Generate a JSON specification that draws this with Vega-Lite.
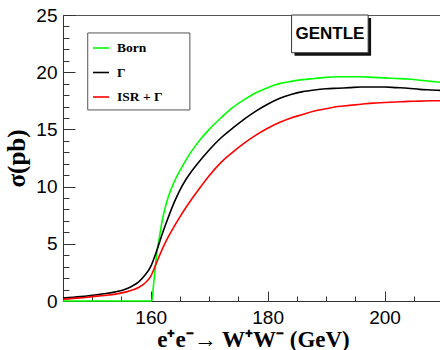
{
  "$schema": "https://vega.github.io/schema/vega-lite/v6.json",
  "width": 380,
  "height": 286,
  "autosize": "none",
  "padding": {"left": 63, "top": 15, "right": 0, "bottom": 49},
  "background": "white",
  "config": {
    "view": {"stroke": "#555", "strokeWidth": 1},
    "axis": {
      "grid": false,
      "domainColor": "#333",
      "tickColor": "#333",
      "labelFont": "Liberation Sans",
      "labelFontSize": 19,
      "labelColor": "#000",
      "titleFont": "Liberation Serif",
      "titleFontWeight": "bold",
      "titleColor": "#000",
      "labelOverlap": false,
      "labelFlush": false
    }
  },
  "resolve": {"axis": {"x": "independent", "y": "independent"}},
  "datasets": {
    "curves": [
      {"series": "Born", "E": 145, "sigma": 0},
      {"series": "Born", "E": 150, "sigma": 0},
      {"series": "Born", "E": 155, "sigma": 0},
      {"series": "Born", "E": 160.2, "sigma": 0},
      {"series": "Born", "E": 160.5, "sigma": 1.5},
      {"series": "Born", "E": 160.8, "sigma": 3.0},
      {"series": "Born", "E": 161.0, "sigma": 4.0},
      {"series": "Born", "E": 161.5, "sigma": 5.6},
      {"series": "Born", "E": 162, "sigma": 7.1},
      {"series": "Born", "E": 162.5, "sigma": 8.2},
      {"series": "Born", "E": 163, "sigma": 9.1},
      {"series": "Born", "E": 164, "sigma": 10.4},
      {"series": "Born", "E": 165, "sigma": 11.4},
      {"series": "Born", "E": 166, "sigma": 12.3},
      {"series": "Born", "E": 167, "sigma": 13.1},
      {"series": "Born", "E": 168, "sigma": 13.8},
      {"series": "Born", "E": 170, "sigma": 15.0},
      {"series": "Born", "E": 172, "sigma": 16.0},
      {"series": "Born", "E": 174, "sigma": 16.9},
      {"series": "Born", "E": 176, "sigma": 17.6},
      {"series": "Born", "E": 178, "sigma": 18.2},
      {"series": "Born", "E": 180, "sigma": 18.65},
      {"series": "Born", "E": 182, "sigma": 19.0},
      {"series": "Born", "E": 184, "sigma": 19.2},
      {"series": "Born", "E": 186, "sigma": 19.35},
      {"series": "Born", "E": 188, "sigma": 19.45},
      {"series": "Born", "E": 190, "sigma": 19.55},
      {"series": "Born", "E": 192, "sigma": 19.6},
      {"series": "Born", "E": 194, "sigma": 19.6},
      {"series": "Born", "E": 196, "sigma": 19.6},
      {"series": "Born", "E": 198, "sigma": 19.55},
      {"series": "Born", "E": 200, "sigma": 19.5},
      {"series": "Born", "E": 202, "sigma": 19.45},
      {"series": "Born", "E": 204, "sigma": 19.4},
      {"series": "Born", "E": 206, "sigma": 19.3},
      {"series": "Born", "E": 208, "sigma": 19.2},
      {"series": "Born", "E": 210, "sigma": 19.1},
      {"series": "Γ", "E": 145, "sigma": 0.25},
      {"series": "Γ", "E": 148, "sigma": 0.38},
      {"series": "Γ", "E": 150, "sigma": 0.5},
      {"series": "Γ", "E": 152, "sigma": 0.63},
      {"series": "Γ", "E": 154, "sigma": 0.8},
      {"series": "Γ", "E": 156, "sigma": 1.1},
      {"series": "Γ", "E": 157, "sigma": 1.35},
      {"series": "Γ", "E": 158, "sigma": 1.7},
      {"series": "Γ", "E": 159, "sigma": 2.25},
      {"series": "Γ", "E": 160, "sigma": 3.0},
      {"series": "Γ", "E": 161, "sigma": 4.35},
      {"series": "Γ", "E": 162, "sigma": 5.9},
      {"series": "Γ", "E": 163, "sigma": 7.3},
      {"series": "Γ", "E": 164, "sigma": 8.6},
      {"series": "Γ", "E": 165, "sigma": 9.7},
      {"series": "Γ", "E": 166, "sigma": 10.6},
      {"series": "Γ", "E": 167, "sigma": 11.35},
      {"series": "Γ", "E": 168, "sigma": 12.0},
      {"series": "Γ", "E": 170, "sigma": 13.2},
      {"series": "Γ", "E": 172, "sigma": 14.25},
      {"series": "Γ", "E": 174, "sigma": 15.1},
      {"series": "Γ", "E": 176, "sigma": 15.9},
      {"series": "Γ", "E": 178, "sigma": 16.6},
      {"series": "Γ", "E": 180, "sigma": 17.2},
      {"series": "Γ", "E": 182, "sigma": 17.7},
      {"series": "Γ", "E": 184, "sigma": 18.05},
      {"series": "Γ", "E": 186, "sigma": 18.3},
      {"series": "Γ", "E": 188, "sigma": 18.45},
      {"series": "Γ", "E": 190, "sigma": 18.55},
      {"series": "Γ", "E": 192, "sigma": 18.6},
      {"series": "Γ", "E": 194, "sigma": 18.65},
      {"series": "Γ", "E": 196, "sigma": 18.7},
      {"series": "Γ", "E": 198, "sigma": 18.7},
      {"series": "Γ", "E": 200, "sigma": 18.7},
      {"series": "Γ", "E": 202, "sigma": 18.65},
      {"series": "Γ", "E": 204, "sigma": 18.6},
      {"series": "Γ", "E": 206, "sigma": 18.5},
      {"series": "Γ", "E": 208, "sigma": 18.45},
      {"series": "Γ", "E": 210, "sigma": 18.4},
      {"series": "ISR + Γ", "E": 145, "sigma": 0.15},
      {"series": "ISR + Γ", "E": 148, "sigma": 0.27},
      {"series": "ISR + Γ", "E": 150, "sigma": 0.38},
      {"series": "ISR + Γ", "E": 152, "sigma": 0.48},
      {"series": "ISR + Γ", "E": 154, "sigma": 0.6},
      {"series": "ISR + Γ", "E": 156, "sigma": 0.82},
      {"series": "ISR + Γ", "E": 157, "sigma": 0.98},
      {"series": "ISR + Γ", "E": 158, "sigma": 1.2},
      {"series": "ISR + Γ", "E": 159, "sigma": 1.55},
      {"series": "ISR + Γ", "E": 160, "sigma": 2.15},
      {"series": "ISR + Γ", "E": 161, "sigma": 3.35},
      {"series": "ISR + Γ", "E": 162, "sigma": 4.55},
      {"series": "ISR + Γ", "E": 163, "sigma": 5.6},
      {"series": "ISR + Γ", "E": 164, "sigma": 6.5},
      {"series": "ISR + Γ", "E": 165, "sigma": 7.35},
      {"series": "ISR + Γ", "E": 166, "sigma": 8.15},
      {"series": "ISR + Γ", "E": 167, "sigma": 8.9},
      {"series": "ISR + Γ", "E": 168, "sigma": 9.6},
      {"series": "ISR + Γ", "E": 170, "sigma": 10.95},
      {"series": "ISR + Γ", "E": 172, "sigma": 12.1},
      {"series": "ISR + Γ", "E": 174, "sigma": 13.0},
      {"series": "ISR + Γ", "E": 176, "sigma": 13.8},
      {"series": "ISR + Γ", "E": 178, "sigma": 14.5},
      {"series": "ISR + Γ", "E": 180, "sigma": 15.1},
      {"series": "ISR + Γ", "E": 182, "sigma": 15.6},
      {"series": "ISR + Γ", "E": 184, "sigma": 16.0},
      {"series": "ISR + Γ", "E": 186, "sigma": 16.3},
      {"series": "ISR + Γ", "E": 188, "sigma": 16.6},
      {"series": "ISR + Γ", "E": 190, "sigma": 16.8},
      {"series": "ISR + Γ", "E": 192, "sigma": 17.0},
      {"series": "ISR + Γ", "E": 194, "sigma": 17.1},
      {"series": "ISR + Γ", "E": 196, "sigma": 17.2},
      {"series": "ISR + Γ", "E": 198, "sigma": 17.3},
      {"series": "ISR + Γ", "E": 200, "sigma": 17.35},
      {"series": "ISR + Γ", "E": 202, "sigma": 17.4},
      {"series": "ISR + Γ", "E": 204, "sigma": 17.45},
      {"series": "ISR + Γ", "E": 206, "sigma": 17.47},
      {"series": "ISR + Γ", "E": 208, "sigma": 17.5},
      {"series": "ISR + Γ", "E": 210, "sigma": 17.5}
    ],
    "label": [{"text": "GENTLE"}]
  },
  "layer": [
    {
      "data": {"name": "curves"},
      "mark": {"type": "line", "interpolate": "monotone", "strokeWidth": 1.6},
      "encoding": {
        "x": {
          "field": "E", "type": "quantitative",
          "scale": {"domain": [145, 210], "nice": false, "zero": false},
          "axis": {
            "orient": "bottom",
            "title": null,
            "values": [145,150,155,165,170,175,185,190,195,205,210],
            "labels": false,
            "tickSize": -5
          }
        },
        "y": {
          "field": "sigma", "type": "quantitative",
          "scale": {"domain": [0, 25], "nice": false},
          "axis": {
            "orient": "left",
            "title": null,
            "values": [1,2,3,4,6,7,8,9,11,12,13,14,16,17,18,19,21,22,23,24],
            "labels": false,
            "tickSize": -6
          }
        },
        "color": {
          "field": "series", "type": "nominal",
          "scale": {"domain": ["Born", "Γ", "ISR + Γ"], "range": ["#00ff00", "#000000", "#ff0000"]},
          "legend": {
            "title": null,
            "orient": "none",
            "legendX": 29,
            "legendY": 24,
            "padding": 0,
            "symbolType": "stroke",
            "symbolSize": 256,
            "symbolStrokeWidth": 1.6,
            "labelFont": "Liberation Serif",
            "labelFontWeight": "bold",
            "labelFontSize": 13.5,
            "labelColor": "#000",
            "labelOffset": 7,
            "rowPadding": 8.5
          }
        }
      }
    },
    {
      "data": {"name": "label"},
      "mark": {"type": "rect", "fill": "white", "stroke": "#555", "strokeWidth": 1},
      "encoding": {
        "x": {"datum": 149.23, "type": "quantitative", "axis": {
            "orient": "bottom",
            "title": "e⁺e⁻→ W⁺W⁻ (GeV)",
            "titleFontSize": 23,
            "titlePadding": 1,
            "values": [160, 180, 200],
            "tickSize": -10,
            "labelPadding": 17,
            "domain": false
          }},
        "x2": {"datum": 166.7},
        "y": {"datum": 23.43, "type": "quantitative", "axis": {
            "orient": "left",
            "title": "σ(pb)",
            "titleFontSize": 25,
            "titlePadding": 6,
            "values": [0, 5, 10, 15, 20, 25],
            "tickSize": -12,
            "labelPadding": 18,
            "domain": false
          }},
        "y2": {"datum": 16.7}
      }
    },
    {
      "data": {"name": "label"},
      "mark": {"type": "rect", "fill": "#111"},
      "encoding": {
        "x": {"datum": 184.6, "type": "quantitative", "axis": null},
        "x2": {"datum": 197.7},
        "y": {"datum": 24.74, "type": "quantitative", "axis": null},
        "y2": {"datum": 21.44}
      }
    },
    {
      "data": {"name": "label"},
      "mark": {"type": "rect", "fill": "white", "stroke": "#333", "strokeWidth": 1},
      "encoding": {
        "x": {"datum": 184.1, "type": "quantitative", "axis": null},
        "x2": {"datum": 197.2},
        "y": {"datum": 25, "type": "quantitative", "axis": null},
        "y2": {"datum": 21.7}
      }
    },
    {
      "data": {"name": "label"},
      "mark": {"type": "text", "font": "Liberation Sans", "fontWeight": "bold", "fontSize": 17, "align": "center", "baseline": "middle", "color": "#000"},
      "encoding": {
        "x": {"datum": 190.65, "type": "quantitative", "axis": null},
        "y": {"datum": 23.35, "type": "quantitative", "axis": null},
        "text": {"field": "text"}
      }
    }
  ]
}
